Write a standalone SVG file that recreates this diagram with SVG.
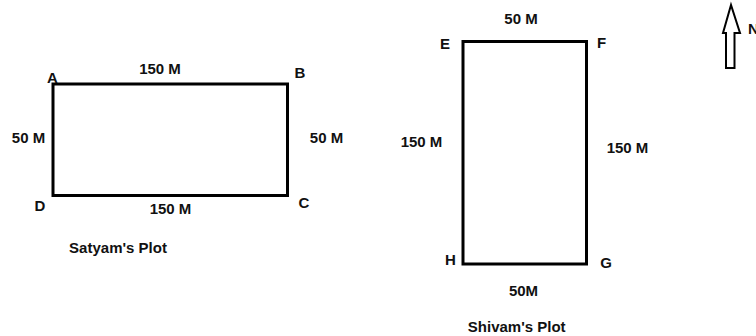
<svg xmlns="http://www.w3.org/2000/svg" width="756" height="336" viewBox="0 0 756 336">
<style>
text{font-family:"Liberation Sans",Arial,sans-serif;font-weight:bold;font-size:15px;fill:#111;text-anchor:middle}
.plot{fill:none;stroke:#000;stroke-width:3}
</style>
<rect width="756" height="336" fill="#fff"/>
<g id="satyam">
<rect class="plot" x="53" y="84" width="234.5" height="111.5"/>
<text x="160" y="73.5">150 M</text>
<text x="52.5" y="82.5">A</text>
<text x="300" y="77.5">B</text>
<text x="28.5" y="142.5">50 M</text>
<text x="326.5" y="142.5">50 M</text>
<text x="40" y="210.5">D</text>
<text x="170.5" y="213.5">150 M</text>
<text x="304" y="207.5">C</text>
<text x="118" y="252.5">Satyam's Plot</text>
</g>
<g id="shivam">
<rect class="plot" x="463" y="41.5" width="123.5" height="222.5"/>
<text x="521" y="23.5">50 M</text>
<text x="445" y="48.5">E</text>
<text x="601.5" y="47.5">F</text>
<text x="421.5" y="146.5">150 M</text>
<text x="627.5" y="152.5">150 M</text>
<text x="450.5" y="264.5">H</text>
<text x="606" y="267.5">G</text>
<text x="523.5" y="295.5">50M</text>
<text x="516.7" y="331.5">Shivam's Plot</text>
</g>
<g id="north">
<polygon points="731,5 723,33 726,33 726,68 734.5,68 734.5,33 740,33" fill="#fff" stroke="#000" stroke-width="2" stroke-linejoin="miter"/>
<text x="748" y="33.5" style="text-anchor:start">N</text>
</g>
</svg>
